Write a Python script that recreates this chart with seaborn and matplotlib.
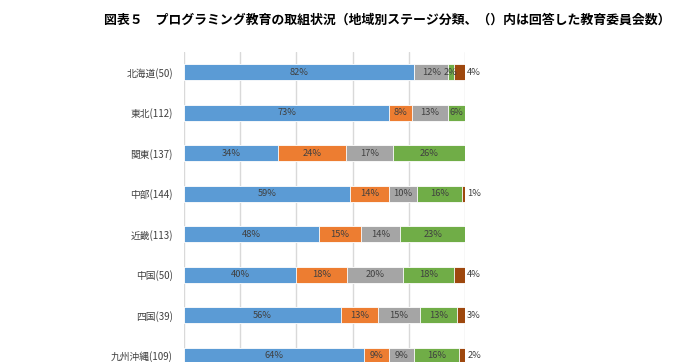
import numpy as np
import pandas as pd
import seaborn as sns
import matplotlib.pyplot as plt

regions = ['北海道(50)', '東北(112)', '関東(137)', '中部(144)', '近畿(113)',
           '中国(50)', '四国(39)', '九州沖縄(109)']
# share of boards per stage (%), left to right
stage1 = [82, 73, 33.6, 59, 48, 40, 56, 64]
stage2 = [0, 8, 23.9, 14, 15, 18, 13, 9]
stage3 = [12, 13, 17.0, 10, 14, 20, 15, 9]
stage4 = [2, 6, 25.5, 16, 23, 18, 13, 16]
stage5 = [4, 0, 0, 1, 0, 4, 3, 2]

title = '図表５　プログラミング教育の取組状況（地域別ステージ分類、（）内は回答した教育委員会数）'
colors = ['#5B9BD5', '#ED7D31', '#A5A5A5', '#70AD47', '#9E480E']

sns.set_style('white')
plt.rcParams['font.family'] = ['Noto Sans CJK JP', 'DejaVu Sans']

stages = [stage1, stage2, stage3, stage4, stage5]
cum = np.cumsum(np.array(stages), axis=0)
df = pd.DataFrame({'region': regions})
for i in range(len(stages)):
    df['c%d' % i] = cum[i]

fig = plt.figure(figsize=(6.9, 3.62), dpi=100)
W, H = 690, 362
ax = fig.add_axes([184 / W, 1 - 376 / H, (465 - 184) / W, (376 - 52) / H])

# stacked bars: draw cumulative totals from the last stage backwards
for i in reversed(range(len(stages))):
    sns.barplot(data=df, x='c%d' % i, y='region', color=colors[i], orient='h',
                width=0.4, edgecolor='white', linewidth=0.6, ax=ax, saturation=1)

for r in range(len(regions)):
    start = 0
    for i in range(len(stages)):
        v = stages[i][r]
        if v > 0:
            if i == 4:
                ax.text(start + v + 0.8, r, '%d%%' % round(v), va='center', ha='left',
                        fontsize=6.7, color='#404040')
            else:
                ax.text(start + v / 2, r, '{:.0f}%'.format(v), va='center', ha='center',
                        fontsize=6.7, color='#404040')
        start += v

ax.set_xlim(0, 100)
ax.set_ylim(len(regions) - 0.5, -0.5)
ax.set_xticks([0, 20, 40, 60, 80, 100])
ax.xaxis.grid(True, color='#D9D9D9', linewidth=1)
ax.set_axisbelow(True)
ax.tick_params(axis='x', length=0, labelbottom=False)
ax.tick_params(axis='y', length=0, pad=8, labelsize=7, labelcolor='#404040')
ax.set_xlabel('')
ax.set_ylabel('')
for s in ax.spines.values():
    s.set_visible(False)

fig.text(104 / W, 1 - 20 / H, title, fontsize=9.3, fontweight='bold', va='center', ha='left',
         color='black')

plt.savefig('out.png', dpi=100)
plt.close()
